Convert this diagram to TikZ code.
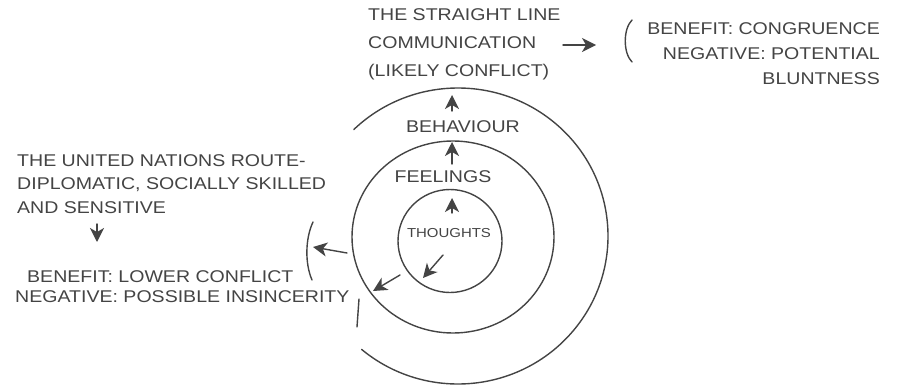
\documentclass[tikz,border=0pt]{standalone}
\usepackage{fontspec}
\setmainfont{Liberation Sans}[FakeStretch=1.15]
\usetikzlibrary{arrows.meta}
\definecolor{inkc}{HTML}{444444}
\begin{document}
\begin{tikzpicture}[x=1pt,y=1pt,
  ink/.style={draw=inkc, line width=1.4pt, line cap=round},
  arr/.style={ink, -{Stealth[length=14pt,width=14pt,inset=4pt]}},
  lbl/.style={text=inkc, inner sep=0pt, font=\fontsize{17}{24}\selectfont},
]
\useasboundingbox (0,0) rectangle (902,389);
% rings
\draw[ink] (450,148) ellipse [x radius=52pt, y radius=51.5pt];
\draw[ink] (453,152) ellipse [x radius=101pt, y radius=96pt];
\draw[ink] ([shift={(-130:150pt and 148pt)}]458,153) arc [start angle=-130, end angle=134, x radius=150pt, y radius=148pt];
% ring labels
\node[lbl, font=\fontsize{13}{16}\selectfont] (thoughts) at (449,156) {THOUGHTS};
\node[lbl] (feelings) at (443,212) {FEELINGS};
\node[lbl] (behaviour) at (463,262) {BEHAVIOUR};
% upward arrows
\coordinate (u1s) at (452,176); \coordinate (u1e) at (452,191);
\coordinate (u2s) at (452,225); \coordinate (u2e) at (452,247);
\coordinate (u3s) at (452,278); \coordinate (u3e) at (452,294);
\draw[arr] (u1s) -- (u1e);
\draw[arr] (u2s) -- (u2e);
\draw[arr] (u3s) -- (u3e);
% diagonal arrows
\coordinate (d1s) at (443,134); \coordinate (d1e) at (423,111);
\coordinate (d2s) at (400,114); \coordinate (d2e) at (373,98);
\coordinate (d3s) at (347,136); \coordinate (d3e) at (313,142);
\draw[arr] (d1s) -- (d1e);
\draw[arr] (d2s) -- (d2e);
\draw[arr] (d3s) -- (d3e);
% left bracket and tail
\coordinate (bl1) at (313,167); \coordinate (bl2) at (312,109);
\draw[ink] (bl1) .. controls (305,150) and (305,125) .. (bl2);
\coordinate (t1) at (359,90); \coordinate (t2) at (357,62);
\draw[ink] (t1) -- (t2);
% top text
\node[lbl, anchor=west, align=left, font=\fontsize{17}{28}\selectfont] (straight) at (368,345) {THE STRAIGHT LINE\\COMMUNICATION\\(LIKELY CONFLICT)};
\coordinate (ta1) at (563,344); \coordinate (ta2) at (596,344);
\draw[arr] (ta1) -- (ta2);
\coordinate (br1) at (632,369); \coordinate (br2) at (632,327);
\draw[ink] (br1) .. controls (623,360) and (623,336) .. (br2);
\node[lbl, anchor=east, align=right, font=\fontsize{17}{25}\selectfont] (congr) at (880,335) {BENEFIT: CONGRUENCE\\NEGATIVE: POTENTIAL\\BLUNTNESS};
% left text
\node[lbl, anchor=west, align=left, font=\fontsize{17}{23.5}\selectfont] (un) at (17,205) {THE UNITED NATIONS ROUTE-\\DIPLOMATIC, SOCIALLY SKILLED\\AND SENSITIVE};
\coordinate (da1) at (97,165); \coordinate (da2) at (97,147);
\draw[arr] (da1) -- (da2);
\node[lbl, anchor=west, align=left, font=\fontsize{17}{20}\selectfont] (lower) at (15,102) {\hspace*{12pt}BENEFIT: LOWER CONFLICT\\NEGATIVE: POSSIBLE INSINCERITY};
\end{tikzpicture}
\end{document}
